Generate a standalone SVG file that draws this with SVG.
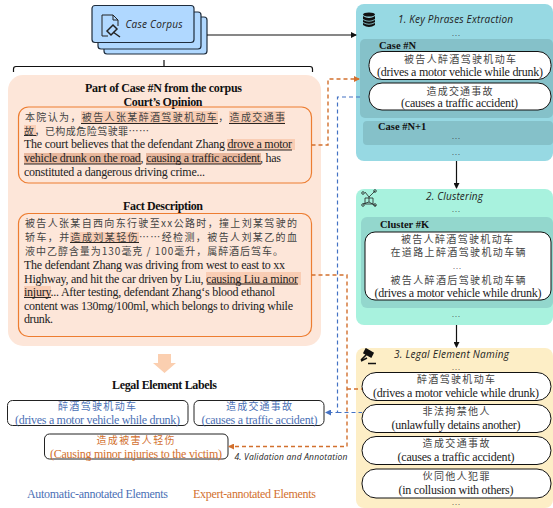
<svg xmlns="http://www.w3.org/2000/svg" width="553" height="508" viewBox="0 0 553 508">
<style>
text{font-family:"Liberation Serif","Noto Sans CJK SC",serif;font-size:12px;fill:#222}
.c{text-anchor:middle}
.b{font-weight:bold;fill:#111}
.cn{font-family:"Noto Sans CJK SC","Liberation Serif",serif;font-size:10px;fill:#444}
.it{font-family:"Open Sans","Noto Sans",sans-serif;font-style:italic;font-size:10px;fill:#222}
.sm{font-size:10.500px}
.d{font-size:8px;text-anchor:middle}
.card{fill:#b0d8ff;stroke:#1f2d3d;stroke-width:1.2}
.pill{fill:#fff;stroke:#111;stroke-width:1}
.ob{fill:none;stroke:#ed7d31;stroke-width:1.2}
.lb{fill:#fff;stroke:#222;stroke-width:1}
.hl{fill:#f9cdb4}
.hd{fill:#e8b79d}
.u{stroke:#111;stroke-width:.9;fill:none}
.blue{fill:#4a6fb5}
.org{fill:#d2702e}
.line{fill:none;stroke:#111;stroke-width:1.2}
.do{fill:none;stroke:#d2702e;stroke-width:1.400;stroke-dasharray:4 3}
.db{fill:none;stroke:#4472c4;stroke-width:1.200;stroke-dasharray:4 3}
.ic{fill:none;stroke:#222;stroke-width:1}
</style>
<defs>
<marker id="ab" markerWidth="6" markerHeight="6" refX="5" refY="3" orient="auto" markerUnits="userSpaceOnUse"><path d="M0 0L6 3L0 6Z" fill="#111"/></marker>
<marker id="ao" markerWidth="6" markerHeight="6" refX="5" refY="3" orient="auto" markerUnits="userSpaceOnUse"><path d="M0 0L6 3L0 6Z" fill="#d2702e"/></marker>
<marker id="al" markerWidth="6" markerHeight="6" refX="5" refY="3" orient="auto" markerUnits="userSpaceOnUse"><path d="M0 0L6 3L0 6Z" fill="#4472c4"/></marker>
</defs>

<g id="case-corpus">
<rect class="card" x="104" y="17" width="103" height="37" rx="3"/>
<rect class="card" x="98" y="12" width="103" height="37" rx="3"/>
<rect class="card" x="92" y="5.500" width="102" height="37" rx="3"/>
<path class="ic" d="M108 36H102V15H113L118 20V26M113 15V20H118"/>
<path d="M107 31L113 25L117 29L111 35ZM113 32L120 37" fill="none" stroke="#222" stroke-width="1.500"/>
<text class="it" x="125.500" y="28" textLength="57">Case Corpus</text>
</g>

<g id="bracket"><path class="line" d="M164 60V66M13.500 72V69Q13.500 66.500 16 66.500H310Q312.500 66.500 312.500 69V72"/></g>

<g id="case-panel">
<rect x="8" y="75" width="313" height="271" rx="15" fill="#fde6d9"/>
<text class="b c" x="163.500" y="92" textLength="157">Part of Case #N from the corpus</text>
<text class="b c" x="163" y="105.500" textLength="79">Court’s Opinion</text>
<rect class="ob" x="18.500" y="107" width="293" height="76" rx="10"/>
<rect class="hl" x="81" y="111" width="137" height="13"/>
<rect class="hl" x="229" y="111" width="56" height="13"/>
<rect class="hl" x="24" y="125" width="12" height="10"/>
<rect class="hl" x="227" y="139" width="68" height="11"/>
<rect class="hd" x="24" y="153" width="117" height="11"/>
<rect class="hd" x="146" y="153" width="115" height="11"/>
<path class="u" d="M81 123.500H218M229 123.500H285M24 135.500H36M227 150H292M24 164H141M146 164H261"/>
<text class="cn" x="25" y="121" textLength="260">本院认为，被告人张某醉酒驾驶机动车，造成交通事</text>
<text class="cn" x="24" y="135" textLength="125">故，已构成危险驾驶罪……</text>
<text x="24" y="148" textLength="268">The court believes that the defendant Zhang drove a motor</text>
<text x="24" y="162" textLength="257">vehicle drunk on the road, causing a traffic accident, has</text>
<text x="24" y="176" textLength="181">constituted a dangerous driving crime...</text>
<text class="b c" x="163" y="209.500" textLength="80">Fact Description</text>
<rect class="ob" x="18.500" y="213.500" width="293" height="123" rx="10"/>
<rect class="hl" x="70" y="232" width="69" height="11"/>
<rect class="hl" x="206" y="272" width="95" height="13"/>
<rect class="hl" x="24" y="286" width="27" height="11"/>
<path class="u" d="M70 242.500H139M207 284H298M24 297.500H51"/>
<text class="cn" x="25" y="227" textLength="272">被告人张某自西向东行驶至xx公路时，撞上刘某驾驶的</text>
<text class="cn" x="25" y="241" textLength="272">轿车，并造成刘某轻伤……经检测，被告人刘某乙的血</text>
<text class="cn" x="25" y="255" textLength="258">液中乙醇含量为130毫克 / 100毫升，属醉酒后驾车。</text>
<text x="24" y="268.500" textLength="261">The defendant Zhang was driving from west to east to xx</text>
<text x="24" y="283" textLength="274">Highway, and hit the car driven by Liu, causing Liu a minor</text>
<text x="24" y="296" textLength="251">injury... After testing, defendant Zhang‘s blood ethanol</text>
<text x="24" y="310" textLength="269">content was 130mg/100ml, which belongs to driving while</text>
<text x="24" y="323" textLength="29">drunk.</text>
</g>

<g id="big-arrow"><path d="M158 354H171V363H176L164.500 373L153 363H158Z" fill="#fbcfb0"/></g>

<g id="labels">
<text class="b c" x="164.500" y="389" textLength="105">Legal Element Labels</text>
<g id="label-a">
<rect class="lb" x="7.500" y="400.500" width="180.500" height="25" rx="5"/>
<text class="cn c" x="97" y="410" style="fill:#4a6fb5" textLength="78">醉酒驾驶机动车</text>
<text class="c blue" x="97.500" y="424" textLength="165">(drives a motor vehicle while drunk)</text>
</g>
<g id="label-b">
<rect class="lb" x="194" y="400.500" width="130" height="25" rx="5"/>
<text class="cn c" x="259" y="410" style="fill:#4a6fb5" textLength="66">造成交通事故</text>
<text class="c blue" x="259.500" y="424" textLength="116">(causes a traffic accident)</text>
</g>
<g id="label-c">
<rect class="lb" x="44.500" y="434" width="183.500" height="25" rx="5"/>
<text class="cn c" x="135.500" y="444" style="fill:#d2702e" textLength="78">造成被害人轻伤</text>
<text class="c org" x="136" y="458" textLength="172">(Causing minor injuries to the victim)</text>
</g>
</g>
<text class="it" x="234.500" y="460" textLength="113" style="font-size:8.500px">4. Validation and Annotation</text>
<g id="legend">
<text class="blue" x="27" y="497.500" textLength="141">Automatic-annotated Elements</text>
<text class="org" x="193" y="497.500" textLength="123">Expert-annotated Elements</text>
</g>

<g id="panel-extraction">
<rect x="356" y="4" width="197" height="157" rx="8" fill="#97d9e3"/>
<rect x="360" y="39" width="193" height="79" rx="5" fill="#85c1c9"/>
<rect x="363" y="121" width="190" height="24" rx="4" fill="#85c1c9"/>
<ellipse cx="369" cy="14.500" rx="6" ry="2" fill="#111"/><path d="M363 16V25Q369 29 375 25V16Q369 20 363 16Z" fill="#111"/><path d="M363 19.500Q369 23 375 19.500M363 22.500Q369 26 375 22.500" stroke="#97d9e3" fill="none" stroke-width=".8"/>
<text class="it" x="398" y="23" textLength="115">1. Key Phrases Extraction</text>
<text class="d" x="456" y="36" textLength="8">...</text>
<text class="b sm" x="379" y="49">Case #N</text>
<rect class="pill" x="369" y="51.500" width="182" height="28" rx="13"/>
<text class="cn c" x="460" y="63" textLength="112">被告人醉酒驾驶机动车</text>
<text class="c" x="460" y="76" textLength="166">(drives a motor vehicle while drunk)</text>
<rect class="pill" x="369" y="83" width="182" height="27" rx="13"/>
<text class="cn c" x="459.500" y="94.500" textLength="66">造成交通事故</text>
<text class="c" x="459.500" y="107" textLength="117">(causes a traffic accident)</text>
<text class="b sm" x="378" y="130">Case #N+1</text>
<text class="d" x="456" y="139" textLength="8">...</text>
<text class="d" x="456" y="155" textLength="8">...</text>
</g>

<g id="panel-clustering">
<rect x="356" y="189" width="197" height="136" rx="8" fill="#a8f2de"/>
<rect x="361" y="217" width="192" height="91" rx="6" fill="#93d7cd"/>
<g id="cluster-icon" fill="none" stroke="#222" stroke-width=".8"><path d="M365 192L369 197L375 191M363 204L369 202L376 206M369 197V202M365 198H373V204H365Z"/><circle cx="363" cy="193" r="1.300"/><circle cx="375" cy="191" r="1.300"/><circle cx="363" cy="205" r="1.300"/><circle cx="375" cy="205" r="1.300"/></g>
<text class="it" x="426" y="200" textLength="57">2. Clustering</text>
<text class="d" x="456" y="212" textLength="8">...</text>
<text class="b sm" x="380" y="228">Cluster #K</text>
<rect class="pill" x="365" y="232" width="186" height="68" rx="10"/>
<text class="cn c" x="457" y="242.500" textLength="112">被告人醉酒驾驶机动车</text>
<text class="cn c" x="458" y="256" textLength="135">在道路上醉酒驾驶机动车辆</text>
<text class="d" x="457" y="269" textLength="8">...</text>
<text class="cn c" x="458" y="284" textLength="135">被告人醉酒后驾驶机动车辆</text>
<text class="c" x="458" y="297" textLength="167">(drives a motor vehicle while drunk)</text>
<text class="d" x="456" y="317" textLength="8">...</text>
</g>

<g id="panel-naming">
<rect x="356" y="348" width="197" height="160" rx="8" fill="#fdeec6"/>
<path d="M361 361L367 358M366 349L373 353L371 357L364 353ZM367 354L361 360" fill="#111" stroke="#111" stroke-width="1.600"/><path d="M368 363.500H376" stroke="#111" stroke-width="1.500"/>
<text class="it" x="394" y="358" textLength="115">3. Legal Element Naming</text>
<text class="d" x="456" y="370" textLength="8">...</text>
<rect class="pill" x="362" y="372.500" width="189" height="28" rx="14"/>
<text class="cn c" x="456" y="383" textLength="78">醉酒驾驶机动车</text>
<text class="c" x="456" y="397" textLength="166">(drives a motor vehicle while drunk)</text>
<rect class="pill" x="362" y="404.500" width="189" height="28" rx="14"/>
<text class="cn c" x="456" y="415" textLength="67">非法拘禁他人</text>
<text class="c" x="456" y="429" textLength="129">(unlawfully detains another)</text>
<rect class="pill" x="362" y="436.500" width="189" height="28" rx="14"/>
<text class="cn c" x="456" y="447" textLength="67">造成交通事故</text>
<text class="c" x="456" y="460.500" textLength="117">(causes a traffic accident)</text>
<rect class="pill" x="362" y="469" width="189" height="29" rx="14"/>
<text class="cn c" x="456" y="480" textLength="67">伙同他人犯罪</text>
<text class="c" x="456" y="493.500" textLength="115">(in collusion with others)</text>
<text class="d" x="456" y="505" textLength="8">...</text>
</g>

<g id="connectors">
<path class="line" d="M207 35H356" marker-end="url(#ab)"/>
<path class="line" d="M456.500 161V188" marker-end="url(#ab)"/>
<path class="line" d="M456.500 325V347" marker-end="url(#ab)"/>
<path class="db" d="M360 97H337.500V412.500H326" marker-end="url(#al)"/>
<path class="db" d="M337.500 412.500H362"/>
<path class="do" d="M311.500 145H328V79H359" marker-end="url(#ao)"/>
<path class="do" d="M311.500 275H347V446.500H229" marker-end="url(#ao)"/>
<path class="do" d="M347 389H362"/>
</g>
</svg>
